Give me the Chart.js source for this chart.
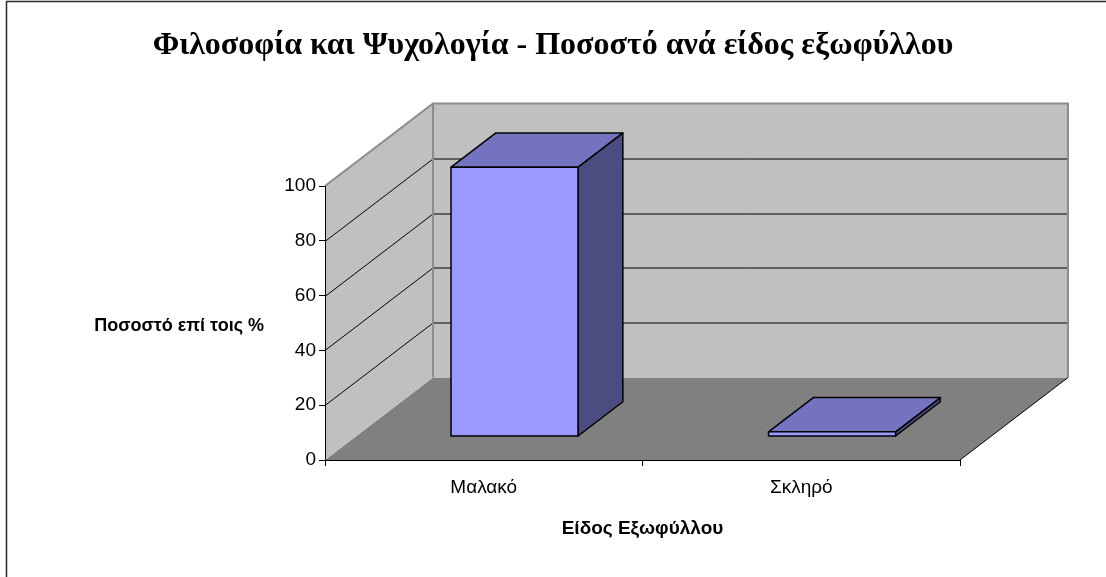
<!DOCTYPE html>
<html>
<head>
<meta charset="utf-8">
<script src="https://cdn.jsdelivr.net/npm/chart.js@4/dist/chart.umd.min.js"></script>
<style>
  html, body { margin: 0; padding: 0; background: #fff; }
  #wrap { width: 1106px; height: 577px; }
</style>
</head>
<body>
<div id="wrap"><canvas id="chartEidos"></canvas></div>
<script>
// Δεδομένα του γραφήματος
const categories = ['Μαλακό', 'Σκληρό'];
const percentages = [98.3, 1.7];
const yTicks = [0, 20, 40, 60, 80, 100];

const chartTitle = 'Φιλοσοφία και Ψυχολογία - Ποσοστό ανά είδος εξωφύλλου';
const yTitle = 'Ποσοστό επί τοις %';
const xTitle = 'Είδος Εξωφύλλου';

// Βάθος της ψευδο-3D προβολής (pixels)
const DEPTH_DX = 108;
const DEPTH_DY = 82.5;
const BAR_FRONT = 0.285;
const BAR_BACK = 0.70;

const colors = {
    wall: '#C0C0C0',
    wallEdge: '#8C8C8C',
    floor: '#808080',
    front: '#9999FF',
    top: '#7373C0',
    side: '#4C4C80'
};

function poly(ctx, pts, fill, stroke, lw) {
    ctx.beginPath();
    ctx.moveTo(pts[0][0], pts[0][1]);
    for (let i = 1; i < pts.length; i++) ctx.lineTo(pts[i][0], pts[i][1]);
    ctx.closePath();
    if (fill) { ctx.fillStyle = fill; ctx.fill(); }
    if (stroke) { ctx.strokeStyle = stroke; ctx.lineWidth = lw || 1; ctx.stroke(); }
}

// Τοίχοι, δάπεδο, γραμμές πλέγματος και τίτλοι
const wallsPlugin = {
    id: 'walls3d',
    beforeDraw(chart) {
        const ctx = chart.ctx;
        const area = chart.chartArea;
        const y = chart.scales.y;
        const left = area.left, right = area.right;
        const bottom = y.getPixelForValue(0);
        const top = y.getPixelForValue(yTicks[yTicks.length - 1]);
        const dx = DEPTH_DX, dy = DEPTH_DY;

        ctx.save();
        ctx.fillStyle = '#fff';
        ctx.fillRect(0, 0, chart.width, chart.height);
        ctx.strokeStyle = '#2a2a2a';
        ctx.lineWidth = 1.5;
        ctx.beginPath();
        ctx.moveTo(6.5, chart.height);
        ctx.lineTo(6.5, 1.5);
        ctx.lineTo(chart.width, 1.5);
        ctx.stroke();

        // δάπεδο
        poly(ctx, [[left, bottom], [right, bottom], [right + dx, bottom - dy], [left + dx, bottom - dy]], colors.floor);
        // πίσω τοίχος
        poly(ctx, [[left + dx, top - dy], [right + dx, top - dy], [right + dx, bottom - dy], [left + dx, bottom - dy]], colors.wall);
        // αριστερός τοίχος
        poly(ctx, [[left, bottom], [left, top], [left + dx, top - dy], [left + dx, bottom - dy]], colors.wall);

        // γραμμές πλέγματος
        ctx.strokeStyle = '#000';
        ctx.lineWidth = 1;
        yTicks.slice(1, -1).forEach(v => {
            const yp = Math.round(y.getPixelForValue(v)) + 0.5;
            ctx.beginPath();
            ctx.moveTo(left, yp);
            ctx.lineTo(left + dx, yp - dy);
            ctx.lineTo(right + dx, yp - dy);
            ctx.stroke();
        });

        // ακμές τοίχων
        ctx.strokeStyle = colors.wallEdge;
        ctx.lineWidth = 2;
        ctx.beginPath();
        ctx.moveTo(left, top);
        ctx.lineTo(left + dx, top - dy);
        ctx.lineTo(right + dx, top - dy);
        ctx.lineTo(right + dx, bottom - dy);
        ctx.moveTo(left + dx, top - dy);
        ctx.lineTo(left + dx, bottom - dy);
        ctx.stroke();

        // δεξιά ακμή δαπέδου
        ctx.strokeStyle = '#000';
        ctx.lineWidth = 1;
        ctx.beginPath();
        ctx.moveTo(right, bottom);
        ctx.lineTo(right + dx, bottom - dy);
        ctx.stroke();

        // κύριος τίτλος
        ctx.fillStyle = '#000';
        ctx.textAlign = 'center';
        ctx.textBaseline = 'middle';
        ctx.font = 'bold 32px "Liberation Serif", "Times New Roman", serif';
        ctx.fillText(chartTitle, chart.width / 2, 46);

        // τίτλος άξονα y, οριζόντιος
        ctx.font = 'bold 18px "Liberation Sans", Arial, sans-serif';
        ctx.textAlign = 'right';
        ctx.fillText(yTitle, left - 61, (top + bottom) / 2 + 3);
        ctx.restore();
    }
};

// Κουτιά των στηλών πάνω στις θέσεις που δίνει το Chart.js
const bars3dPlugin = {
    id: 'bars3d',
    afterDatasetsDraw(chart) {
        const ctx = chart.ctx;
        const meta = chart.getDatasetMeta(0);
        const fx = BAR_FRONT * DEPTH_DX, fy = BAR_FRONT * DEPTH_DY;
        const bx = BAR_BACK * DEPTH_DX, by = BAR_BACK * DEPTH_DY;
        ctx.save();
        ctx.lineJoin = 'round';
        meta.data.forEach(bar => {
            const p = bar.getProps(['x', 'y', 'base', 'width'], true);
            const l = p.x - p.width / 2, r = p.x + p.width / 2;
            const t = p.y, b = p.base;
            poly(ctx, [[r + fx, t - fy], [r + bx, t - by], [r + bx, b - by], [r + fx, b - fy]], colors.side, '#000', 1.5);
            poly(ctx, [[l + fx, t - fy], [r + fx, t - fy], [r + bx, t - by], [l + bx, t - by]], colors.top, '#000', 1.5);
            poly(ctx, [[l + fx, t - fy], [r + fx, t - fy], [r + fx, b - fy], [l + fx, b - fy]], colors.front, '#000', 1.5);
        });
        ctx.restore();
    }
};

Chart.defaults.font.family = '"Liberation Sans", Arial, sans-serif';
Chart.defaults.color = '#000';

new Chart(document.getElementById('chartEidos').getContext('2d'), {
    type: 'bar',
    data: {
        labels: categories,
        datasets: [{
            label: 'Ποσοστό',
            data: percentages,
            backgroundColor: 'rgba(0,0,0,0)',
            borderWidth: 0,
            barPercentage: 0.5,
            categoryPercentage: 0.8
        }]
    },
    options: {
        responsive: true,
        maintainAspectRatio: false,
        animation: false,
        layout: { padding: { left: 265, right: 146, top: 186, bottom: 37 } },
        plugins: {
            legend: { display: false },
            tooltip: { enabled: false },
            title: { display: false }
        },
        scales: {
            y: {
                min: 0,
                max: 100,
                afterBuildTicks: (scale) => { scale.ticks = yTicks.map(v => ({ value: v })); },
                afterFit: (scale) => { scale.width = 60; },
                grid: { drawOnChartArea: false, drawTicks: true, tickLength: 6, color: '#000' },
                border: { display: true, color: '#000', width: 1 },
                ticks: { font: { size: 19 }, padding: 3, color: '#000' }
            },
            x: {
                afterFit: (scale) => { scale.height = 80; },
                grid: { drawOnChartArea: false, drawTicks: true, tickLength: 6, color: '#000', offset: true },
                border: { display: true, color: '#000', width: 1 },
                ticks: { font: { size: 19 }, padding: 10, color: '#000' },
                title: {
                    display: true,
                    text: xTitle,
                    color: '#000',
                    font: { size: 19, weight: 'bold' },
                    padding: { top: 0, bottom: 0 }
                }
            }
        }
    },
    plugins: [wallsPlugin, bars3dPlugin]
});
</script>
</body>
</html>
